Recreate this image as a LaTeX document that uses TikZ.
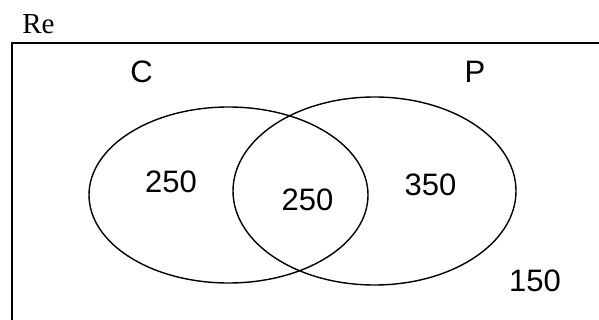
\documentclass[tikz,border=0pt]{standalone}
\usepackage{fontspec}
\setmainfont{Liberation Sans}
\newfontfamily\serifre{Liberation Serif}
\begin{document}
\begin{tikzpicture}[x=1pt,y=-1pt,
  lbl/.style={inner sep=0pt,font=\fontsize{31}{31}\selectfont},
  setshape/.style={draw,line width=1.4pt}]
\useasboundingbox (0,0) rectangle (599,320);
\clip (0,0) rectangle (599,320);
\draw[line width=2pt] (12,43) rectangle (620,340);
\node[inner sep=0pt,font=\serifre\fontsize{29}{29}\selectfont] (re) at (38.5,24) {Re};
\draw[setshape] (228.5,195) ellipse [x radius=139.5, y radius=88];
\draw[setshape] (374.5,191) ellipse [x radius=141.5, y radius=94];
\node[lbl] (c) at (141.5,71.5) {C};
\node[lbl] (p) at (475,71.5) {P};
\node[lbl] (a) at (171,181.5) {250};
\node[lbl] (b) at (307.5,199.5) {250};
\node[lbl] (d) at (430.5,184.5) {350};
\node[lbl] (e) at (535,281) {150};
\end{tikzpicture}
\end{document}
